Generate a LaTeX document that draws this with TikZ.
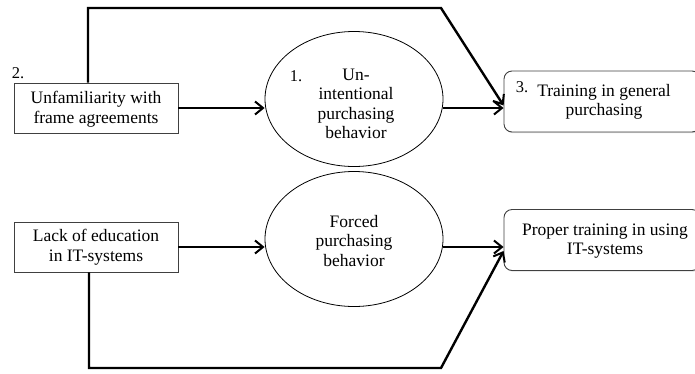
\documentclass[tikz,border=0pt]{standalone}
\usepackage{fontspec}
\setmainfont{Liberation Serif}
\usetikzlibrary{arrows.meta,shapes.geometric,shadows}

\tikzset{
  txt/.style={font=\fontsize{17.5}{19.5}\selectfont, align=center, inner sep=0pt},
  num/.style={font=\fontsize{16.5}{18}\selectfont, inner sep=0pt},
  causebox/.style={draw=black!75, line width=0.9pt, fill=white, minimum width=164pt,
    minimum height=50pt, drop shadow={shadow xshift=1.2pt, shadow yshift=-1.2pt, opacity=0.25}},
  remedybox/.style={draw=black!75, line width=0.9pt, fill=white, rounded corners=8pt,
    minimum width=196pt, minimum height=61pt,
    drop shadow={shadow xshift=1.2pt, shadow yshift=-1.2pt, opacity=0.25}},
  behav/.style={draw=black, line width=0.8pt, ellipse, minimum width=178pt, minimum height=135pt},
  conn/.style={line width=2.4pt, line join=miter, -{Straight Barb[length=8pt,width=13pt,line width=2pt]}},
}

\begin{document}
\begin{tikzpicture}[x=1pt,y=-1pt]
  \useasboundingbox (0,0) rectangle (695,373);
  \clip (0,0) rectangle (695,373);

  % causes on the left
  \node[causebox] (a1) at (96,108) {};
  \node[txt] (a1t) at (96,109) {Unfamiliarity with\\frame agreements};
  \node[num] (n2) at (18,73) {2.};
  \node[causebox] (a2) at (96,247) {};
  \node[txt] (a2t) at (96,247) {Lack of education\\in IT-systems};

  % purchasing behaviours
  \node[behav] (e1) at (354,99) {};
  \node[txt] (e1t) at (356,104) {Un-\\intentional\\purchasing\\behavior};
  \node[num] (n1) at (296,76) {1.};
  \node[behav] (e2) at (354,239) {};
  \node[txt] (e2t) at (354,241) {Forced\\purchasing\\behavior};

  % remedies on the right
  \node[remedybox] (b3) at (602,101.5) {};
  \node[txt] (b3t) at (604,102) {Training in general\\purchasing};
  \node[num] (n3) at (522,87) {3.};
  \node[remedybox] (b4) at (602,240) {};
  \node[txt] (b4t) at (605,241) {Proper training in using\\IT-systems};

  % bypass routes
  \coordinate (t1) at (88,8);
  \coordinate (t2) at (441,8);
  \coordinate (u1) at (89,368);
  \coordinate (u2) at (441,368);

  % connectors
  \draw[conn] (a1.east) -- (a1.east -| e1.west);
  \draw[conn] (e1.east |- a1.east) -- (b3.west |- a1.east);
  \draw[conn] ([xshift=-8pt]a1.north) -- (t1) -- (t2) -- ([yshift=-4pt]b3.west);
  \draw[conn] (a2.east) -- (a2.east -| e2.west);
  \draw[conn] (e2.east |- a2.east) -- (b4.west |- a2.east);
  \draw[conn] ([xshift=-7pt]a2.south) -- (u1) -- (u2) -- ([yshift=-11pt]b4.west);
\end{tikzpicture}
\end{document}
